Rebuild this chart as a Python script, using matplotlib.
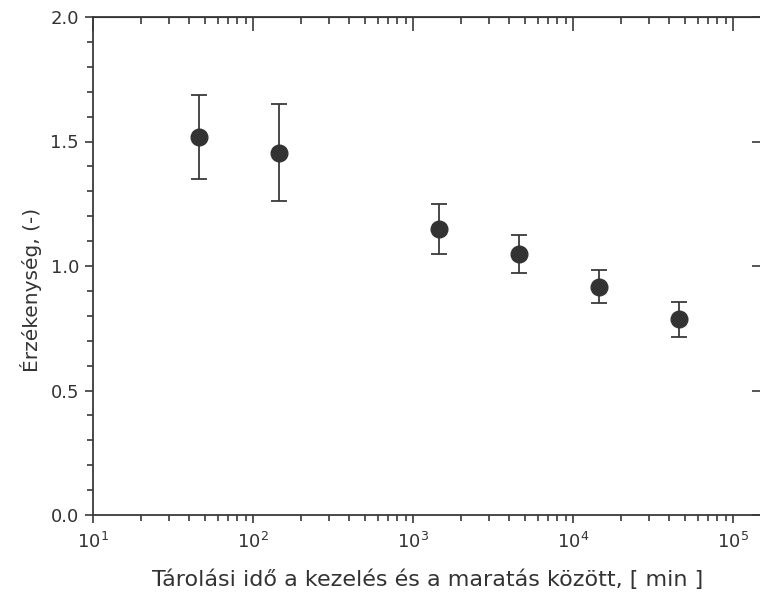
import numpy as np
import matplotlib
matplotlib.use("Agg")
from matplotlib import pyplot as plt
from matplotlib.ticker import LogLocator, MultipleLocator, NullFormatter

plt.rcParams['font.family'] = ['DejaVu Sans']
plt.rcParams['mathtext.fontset'] = 'dejavusans'

# storage time [min] and sensitivity with error bar ends
ido = [46, 146, 1450, 4580, 14500, 45800]
erzekenyseg = [1.517, 1.453, 1.147, 1.047, 0.914, 0.786]
felso = [1.686, 1.649, 1.248, 1.124, 0.983, 0.854]
also = [1.351, 1.260, 1.047, 0.971, 0.850, 0.714]

szin = '#333333'
vonal = '#3a3a3a'
hiba = [np.array(erzekenyseg) - np.array(also), np.array(felso) - np.array(erzekenyseg)]

# the right edge of the frame sits just past the picture edge, as in the original
bal, jobb = 93, 761.5
fig = plt.figure(figsize=(7.6, 5.96), dpi=100)
ax = fig.add_axes([bal/760, 1 - 515/596, (jobb - bal)/760, (515 - 17)/596])

ax.errorbar(ido, erzekenyseg, yerr=hiba, fmt='o', color=szin, ecolor=vonal,
            markersize=12, elinewidth=1.3, capsize=6, capthick=1.3)

ax.set_xscale('log')
ax.set_xlim(10, 10**(1 + (jobb - bal)/160))
ax.set_ylim(0, 2.0)

ax.xaxis.set_major_locator(LogLocator(base=10, numticks=10))
ax.xaxis.set_minor_locator(LogLocator(base=10, subs=np.arange(2, 10), numticks=20))
ax.xaxis.set_minor_formatter(NullFormatter())
ax.yaxis.set_major_locator(MultipleLocator(0.5))
ax.yaxis.set_minor_locator(MultipleLocator(0.1))
ax.yaxis.set_major_formatter(plt.FormatStrFormatter('%.1f'))

for s in ax.spines.values():
    s.set_color(vonal)
    s.set_linewidth(1.3)

ax.tick_params(which='major', direction='out', length=6, width=1.2, color=vonal,
               labelsize=13, labelcolor=szin, top=False, right=False)
ax.tick_params(which='minor', direction='out', length=4, width=1.2, color=vonal,
               top=False, right=False)
ax.tick_params(axis='x', which='major', pad=6)
ax.tick_params(axis='y', which='major', pad=4)

# inward ticks on the top and right sides
top = ax.secondary_xaxis('top')
top.set_xscale('log')
top.xaxis.set_major_locator(LogLocator(base=10, numticks=10))
top.xaxis.set_minor_locator(LogLocator(base=10, subs=np.arange(2, 10), numticks=20))
top.tick_params(which='major', direction='in', length=10, width=1.2, color=vonal, labeltop=False)
top.tick_params(which='minor', direction='in', length=5, width=1.2, color=vonal)
top.xaxis.set_major_formatter(NullFormatter())
top.xaxis.set_minor_formatter(NullFormatter())

right = ax.secondary_yaxis('right')
right.yaxis.set_major_locator(MultipleLocator(0.5))
right.tick_params(which='major', direction='in', length=7, width=1.2, color=vonal, labelright=False)
right.tick_params(which='minor', length=0)
right.yaxis.set_major_formatter(NullFormatter())

ax.set_xlabel('Tárolási idő a kezelés és a maratás között, [ min ]', fontsize=16, color=szin, labelpad=13)
ax.set_ylabel('Érzékenység, (-)', fontsize=14.5, color=szin)
ax.yaxis.set_label_coords(-0.077, 0.452)

fig.savefig('out.png', dpi=100)
